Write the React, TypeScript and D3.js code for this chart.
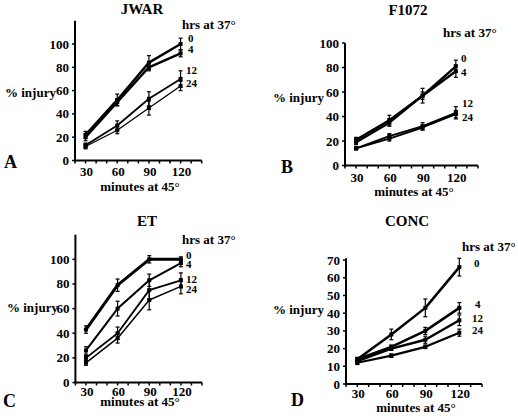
import React from "react";
import * as d3 from "d3";

const minutes = [30, 60, 90, 120];
const hrsLabels = ["0", "4", "12", "24"];
const xTickValues = [20, 30, 40, 50, 60, 70, 80, 90, 100, 110, 120, 130, 140];
const xLabelValues = [30, 60, 90, 120];

const panelTitles = ["JWAR", "F1072", "ET", "CONC"];
const panelLetters = ["A", "B", "C", "D"];

// mean % injury per series (0, 4, 12, 24 hrs at 37°)
const jwarMeans = [
  [22, 52, 84, 100],
  [20, 50, 80, 92],
  [13, 30, 53, 70],
  [12, 26, 45, 64],
];
const jwarErr = [
  [3, 5, 6, 5],
  [3, 3, 3, 3],
  [2, 4, 6, 7],
  [2, 3, 6, 4],
];
const f1072Means = [
  [21, 37, 57, 81],
  [19, 35, 57, 77],
  [14, 24, 32, 43],
  [14, 22, 31, 42],
];
const f1072Err = [
  [2, 4, 6, 5],
  [2, 3, 3, 5],
  [1, 2, 3, 5],
  [1, 2, 2, 3],
];
const etMeans = [
  [43, 79, 100, 100],
  [26, 60, 83, 97],
  [20, 40, 75, 83],
  [16, 36, 67, 78],
];
const etErr = [
  [3, 5, 3, 2],
  [3, 6, 5, 3],
  [2, 5, 8, 6],
  [2, 4, 8, 6],
];
const concMeans = [
  [14, 28, 43, 66],
  [14, 21, 30, 43],
  [13, 20, 25, 36],
  [12, 16, 21, 29],
];
const concErr = [
  [1, 3, 5, 5],
  [1, 1, 2, 3],
  [1, 1, 2, 3],
  [1, 1, 1, 2],
];

const yTicksA = [0, 20, 40, 60, 80, 100];
const yTicksD = [0, 10, 20, 30, 40, 50, 60, 70];

const FONT = "Liberation Serif";

type Layout = {
  xr: [number, number];
  yr: [number, number];
  ymax: number;
  yTicks: number[];
  widths: number[];
  title: [number, number];
  letter: [number, number];
  hrs: [number, number];
  ylab: [number, number];
  xlab: [number, number];
  xlabOff: number;
  seriesLab: [number, number][];
};

const layouts: Layout[] = [
  {
    xr: [75, 201.7], yr: [160.5, 20.7], ymax: 120, yTicks: yTicksA,
    widths: [2.4, 2.4, 1.8, 1.3],
    title: [142, 14], letter: [4, 168], hrs: [182, 29], ylab: [5, 97], xlab: [140, 191], xlabOff: 15,
    seriesLab: [[188, 42], [188, 53], [186, 74], [186, 87]],
  },
  {
    xr: [345, 478], yr: [165.5, 43], ymax: 100, yTicks: yTicksA,
    widths: [2.4, 2.4, 2, 1.8],
    title: [408, 15], letter: [281, 173], hrs: [443, 37], ylab: [273, 102], xlab: [414, 196], xlabOff: 16,
    seriesLab: [[461, 62], [461, 76], [462, 107], [462, 121]],
  },
  {
    xr: [75.4, 202], yr: [382.5, 234.7], ymax: 120, yTicks: yTicksA,
    widths: [3, 2, 1.8, 1.5],
    title: [147, 226], letter: [3, 407], hrs: [182, 244], ylab: [7, 312], xlab: [140, 406], xlabOff: 13,
    seriesLab: [[186, 259], [186, 268], [186, 283], [186, 293]],
  },
  {
    xr: [346, 482], yr: [384, 258.3], ymax: 71, yTicks: yTicksD,
    widths: [2.5, 2.5, 2.5, 2.2],
    title: [407, 226], letter: [291, 406], hrs: [462, 251], ylab: [273, 314], xlab: [416, 412], xlabOff: 14,
    seriesLab: [[474, 267], [475, 308], [472, 322], [472, 334]],
  },
];

const panelMeans = [jwarMeans, f1072Means, etMeans, concMeans];
const panelErrs = [jwarErr, f1072Err, etErr, concErr];

function Panel({ idx }: { idx: number }) {
  const L = layouts[idx];
  const means = panelMeans[idx];
  const errs = panelErrs[idx];
  const x = d3.scaleLinear().domain([20, 140]).range(L.xr);
  const y = d3.scaleLinear().domain([0, L.ymax]).range(L.yr);
  const line = d3
    .line<number>()
    .x((_, i) => x(minutes[i]))
    .y((d) => y(d));
  const x0 = L.xr[0];
  const y0 = L.yr[0];
  return (
    <g fontFamily={FONT} fontWeight="bold">
      <line x1={x0} x2={x0} y1={y0 + 1} y2={L.yr[1]} stroke="#000" strokeWidth={2} />
      <line x1={x0 - 1} x2={L.xr[1]} y1={y0} y2={y0} stroke="#000" strokeWidth={2} />
      {L.yTicks.map((t) => (
        <g key={"yt" + t}>
          <line x1={x0 - 3} x2={x0} y1={y(t)} y2={y(t)} stroke="#000" strokeWidth={1.5} />
          <text x={x0 - 6} y={y(t) + 4.5} textAnchor="end" fontSize={13}>
            {t}
          </text>
        </g>
      ))}
      {xTickValues.map((t) => (
        <line key={"xt" + t} x1={x(t)} x2={x(t)} y1={y0} y2={y0 + 3} stroke="#000" strokeWidth={1.5} />
      ))}
      {xLabelValues.map((t) => (
        <text key={"xl" + t} x={x(t) + 1} y={y0 + L.xlabOff} textAnchor="middle" fontSize={13}>
          {t}
        </text>
      ))}
      {means.map((s, si) => (
        <g key={"s" + si}>
          <path d={line(s) || ""} fill="none" stroke="#000" strokeWidth={L.widths[si]} strokeLinejoin="round" />
          {s.map((v, i) => {
            const e = errs[si][i];
            const cx = x(minutes[i]);
            return (
              <g key={"p" + i}>
                <line x1={cx} x2={cx} y1={y(v - e)} y2={y(v + e)} stroke="#000" strokeWidth={1.2} />
                <line x1={cx - 2} x2={cx + 2} y1={y(v - e)} y2={y(v - e)} stroke="#000" strokeWidth={1.2} />
                <line x1={cx - 2} x2={cx + 2} y1={y(v + e)} y2={y(v + e)} stroke="#000" strokeWidth={1.2} />
                <rect x={cx - 2} y={y(v) - 2} width={4} height={4} fill="#000" />
              </g>
            );
          })}
        </g>
      ))}
      {hrsLabels.map((h, si) => (
        <text key={"hl" + si} x={L.seriesLab[si][0]} y={L.seriesLab[si][1]} fontSize={11}>
          {h}
        </text>
      ))}
      <text x={L.title[0]} y={L.title[1]} textAnchor="middle" fontSize={15}>
        {panelTitles[idx]}
      </text>
      <text x={L.hrs[0]} y={L.hrs[1]} fontSize={13}>
        hrs at 37°
      </text>
      <text x={L.ylab[0]} y={L.ylab[1]} fontSize={13}>
        % injury
      </text>
      <text x={L.xlab[0]} y={L.xlab[1]} textAnchor="middle" fontSize={13}>
        minutes at 45°
      </text>
      <text x={L.letter[0]} y={L.letter[1]} fontSize={18}>
        {panelLetters[idx]}
      </text>
    </g>
  );
}

export default function App() {
  return (
    <div style={{ position: "absolute", left: 0, top: 0 }}>
      <svg width={518} height={418} style={{ display: "block", background: "#fff" }}>
        <rect width={518} height={418} fill="#fff" />
        {[0, 1, 2, 3].map((i) => (
          <Panel key={i} idx={i} />
        ))}
      </svg>
    </div>
  );
}
